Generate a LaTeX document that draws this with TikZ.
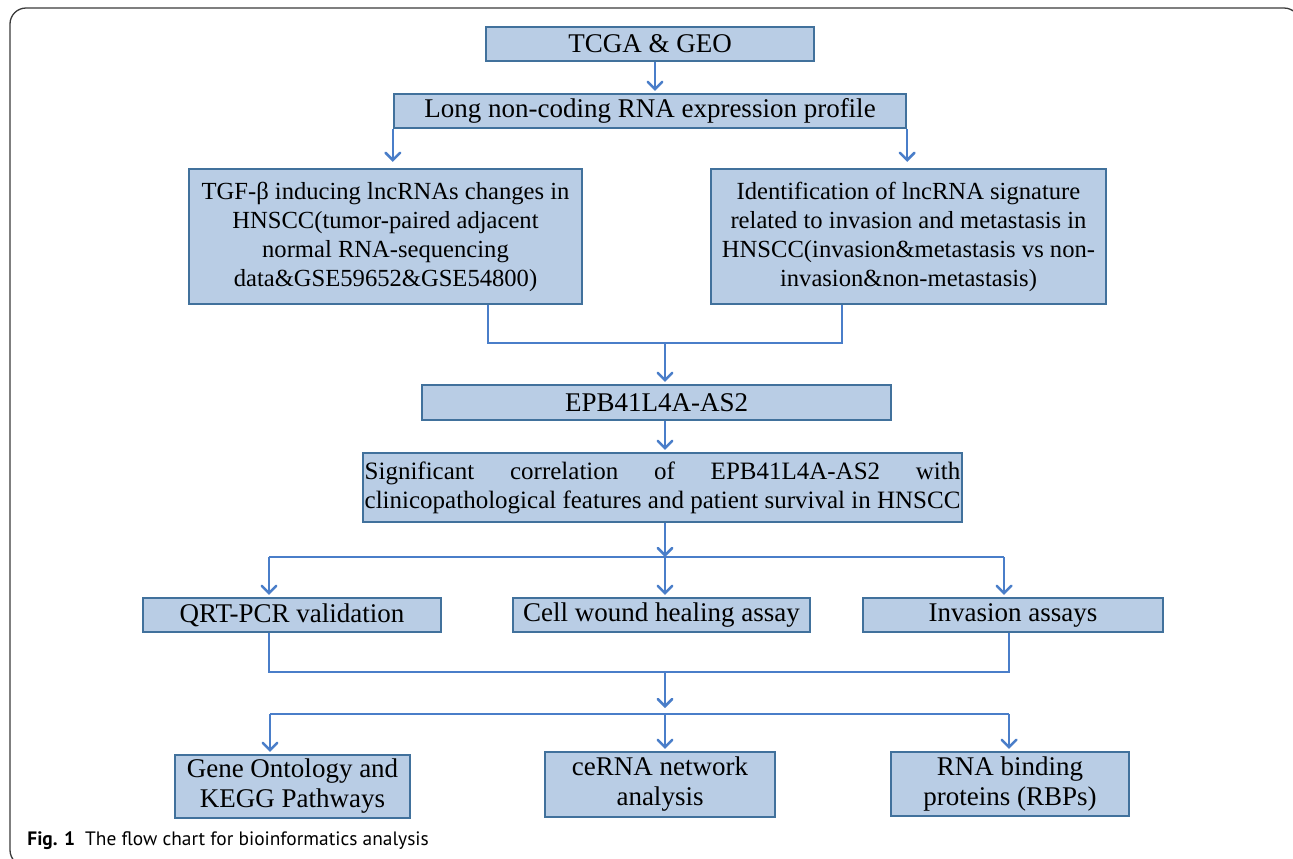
\documentclass[tikz,border=0pt]{standalone}
\usepackage{fontspec}
\setmainfont{Liberation Serif}
\newfontfamily\capfont{PT Sans}
\usepackage{tikz}
\usetikzlibrary{arrows,calc,positioning}

\definecolor{boxfill}{HTML}{B9CDE5}
\definecolor{boxline}{HTML}{41719C}
\definecolor{flowblue}{HTML}{4A7EC9}
\definecolor{framegray}{HTML}{3A3A3A}

\newlength\siglen

\tikzset{
  box/.style={draw=boxline, fill=boxfill, line width=1.2pt, inner sep=0pt,
    align=center, font=\fontsize{13.5}{15}\selectfont},
  bigbox/.style={box, font=\fontsize{12.3}{14.5}\selectfont},
  link/.style={draw=flowblue, line width=1.25pt},
  flow/.style={link, -angle 90, shorten >=1pt},
}

\begin{document}
\begin{tikzpicture}[x=0.5pt,y=-0.5pt]
\useasboundingbox (0,0) rectangle (1293,858);
\begin{scope}
\clip (0,0) rectangle (1293,858);
\draw[framegray, line width=0.65pt, rounded corners=8pt] (10,8) rectangle (1300,866);
\end{scope}

% boxes
\node[box, minimum width=164pt, minimum height=17pt] (tcga) at (650,44) {TCGA \& GEO};
\node[box, minimum width=256pt, minimum height=17pt] (lnc) at (650,111) {Long non-coding RNA expression profile};
\node[bigbox, minimum width=196.5pt, minimum height=67.5pt] (tgf) at (385.5,236.5)
  {TGF-β inducing lncRNAs changes in\\ HNSCC(tumor-paired adjacent\\ normal RNA-sequencing\\ data\&GSE59652\&GSE54800)};
\node[bigbox, minimum width=197.5pt, minimum height=67.5pt] (ident) at (908.5,236.5)
  {Identification of lncRNA signature\\ related to invasion and metastasis in\\ HNSCC(invasion\&metastasis vs non-\\ invasion\&non-metastasis)};
\node[box, minimum width=234.5pt, minimum height=17.5pt] (epb) at (656.5,402.5) {EPB41L4A-AS2};
\node[bigbox, font=\fontsize{12.5}{14.5}\selectfont, minimum width=299.5pt, minimum height=34.5pt] (sig) at (662.5,487.5)
  {\settowidth{\siglen}{clinicopathological features and patient survival in HNSCC}%
   \makebox[\siglen][s]{Significant correlation of EPB41L4A-AS2 with}\\
   clinicopathological features and patient survival in HNSCC};
\node[box, minimum width=149pt, minimum height=17pt] (qrt) at (292,615) {QRT-PCR validation};
\node[box, minimum width=148.5pt, minimum height=17pt] (cell) at (661.5,615) {Cell wound healing assay};
\node[box, minimum width=150pt, minimum height=17pt] (inv) at (1013,615) {Invasion assays};
\node[box, minimum width=117.5pt, minimum height=31.5pt] (gene) at (292.5,786.5) {Gene Ontology and\\ KEGG Pathways};
\node[box, minimum width=115pt, minimum height=32.5pt] (cerna) at (660,784.5) {ceRNA network\\ analysis};
\node[box, minimum width=119pt, minimum height=32pt] (rbp) at (1010,784) {RNA binding\\ proteins (RBPs)};

% junctions
\coordinate (m1) at (665,343);
\coordinate (s0) at (269,557);
\coordinate (s1) at (665,557);
\coordinate (s2) at (1004,557);
\coordinate (t0) at (269,672);
\coordinate (t1) at (665,672);
\coordinate (t2) at (1009,672);
\coordinate (u0) at (270,714);
\coordinate (u1) at (665,714);
\coordinate (u2) at (1009,714);

% connectors
\draw[flow] ([xshift=2.5pt]tcga.south) -- ([xshift=2.5pt]lnc.north);
\draw[flow, shorten >=3pt] (lnc.south west) -- (lnc.south west |- tgf.north);
\draw[flow, shorten >=3pt] (lnc.south east) -- (lnc.south east |- ident.north);
\draw[link] ([xshift=51.25pt]tgf.south) |- (m1) -| ([xshift=-33.25pt]ident.south);
\draw[flow] (m1) -- (m1 |- epb.north);
\draw[flow] (m1 |- epb.south) -- (m1 |- sig.north);
\draw[flow, shorten >=0pt] (m1 |- sig.south) -- (s1);
\draw[link] (s0) -- (s2);
\draw[flow] (s0) -- (s0 |- qrt.north);
\draw[flow] (s1) -- (s1 |- cell.north);
\draw[flow] (s2) -- (s2 |- inv.north);
\draw[link] (t0 |- qrt.south) -- (t0) -- (t2) -- (t2 |- inv.south);
\draw[flow, shorten >=3pt] (t1) -- (u1);
\draw[link] (u0) -- (u2);
\draw[flow] (u0) -- (u0 |- gene.north);
\draw[flow] (u1) -- (u1 |- cerna.north);
\draw[flow] (u2) -- (u2 |- rbp.north);

% caption
\node[anchor=base west, inner sep=0pt, font=\capfont\fontsize{9.7}{11}\selectfont] (cap) at (27,845)
  {\textbf{Fig. 1}\hspace{5pt}The flow chart for bioinformatics analysis};
\end{tikzpicture}
\end{document}
